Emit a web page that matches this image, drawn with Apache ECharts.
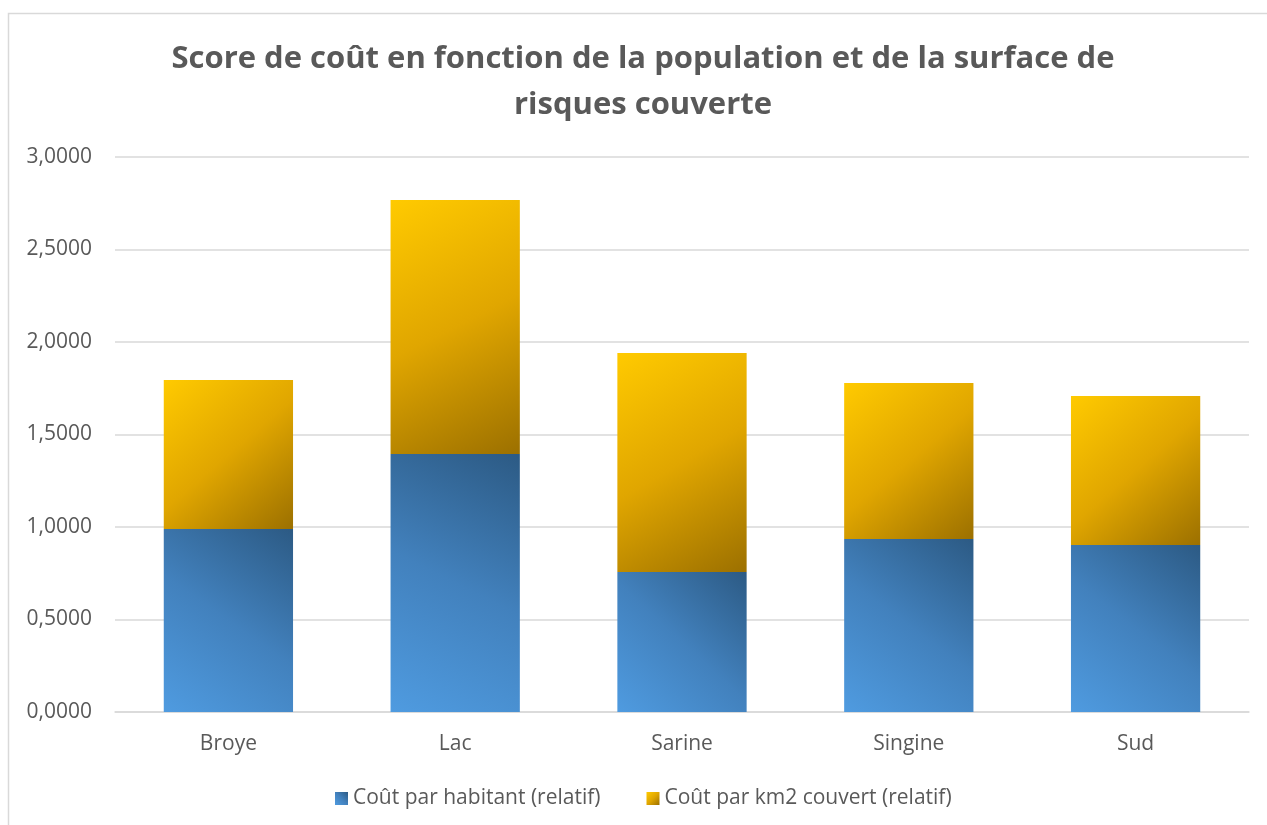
<!DOCTYPE html>
<html>
<head>
<meta charset="utf-8">
<script src="https://cdn.jsdelivr.net/npm/echarts@6/dist/echarts.min.js"></script>
<style>
  html, body { margin: 0; padding: 0; background: #fff; }
  #chart { width: 1267px; height: 825px; }
</style>
</head>
<body>
<div id="chart"></div>
<script>
// Districts and relative cost scores
const categories = ['Broye', 'Lac', 'Sarine', 'Singine', 'Sud'];
const coutHabitant = [0.989, 1.395, 0.757, 0.935, 0.903];
const coutKm2 = [0.806, 1.373, 1.184, 0.843, 0.805];
const seriesNames = ['Coût par habitant (relatif)', 'Coût par km2 couvert (relatif)'];
const titleText = 'Score de coût en fonction de la population et de la surface de\nrisques couverte';

const FONT = '"Open Sans", "Noto Sans", sans-serif';
const TEXT = '#595959';

// Diagonal gradients: blue darkens toward top-right, gold toward bottom-right
const blueFill = new echarts.graphic.LinearGradient(0, 1, 1, 0, [
  { offset: 0, color: '#4f9be0' },
  { offset: 0.5, color: '#4281bd' },
  { offset: 1, color: '#2c5a84' }
]);
const goldFill = new echarts.graphic.LinearGradient(0, 0, 1, 1, [
  { offset: 0, color: '#ffca00' },
  { offset: 0.5, color: '#e0a600' },
  { offset: 1, color: '#9c7000' }
]);

const chart = echarts.init(document.getElementById('chart'), null, { renderer: 'canvas' });

chart.setOption({
  backgroundColor: '#fff',
  animation: false,
  graphic: [
    {
      // chart frame
      type: 'rect',
      shape: { x: 8.5, y: 13.5, width: 1300, height: 900 },
      style: { fill: 'none', stroke: '#d9d9d9', lineWidth: 1.5 },
      silent: true,
      z: -1
    },
    {
      // two-line centred title
      type: 'text',
      x: 643,
      y: 82,
      silent: true,
      style: {
        text: titleText,
        fontFamily: FONT,
        fontSize: 31,
        fontWeight: 'bold',
        fill: TEXT,
        lineHeight: 46,
        align: 'center',
        verticalAlign: 'middle'
      }
    }
  ],
  legend: {
    bottom: 11,
    left: 330,
    itemWidth: 13,
    itemHeight: 13,
    itemGap: 46,
    icon: 'rect',
    textStyle: { fontFamily: FONT, fontSize: 21, color: TEXT },
    data: seriesNames
  },
  grid: { left: 115, right: 18, top: 157, bottom: 113, containLabel: false },
  xAxis: {
    type: 'category',
    data: categories,
    axisLine: { lineStyle: { color: '#d9d9d9', width: 1.5 } },
    axisTick: { show: false },
    axisLabel: { fontFamily: FONT, fontSize: 21, color: TEXT, margin: 22 }
  },
  yAxis: {
    type: 'value',
    min: 0,
    max: 3,
    interval: 0.5,
    axisLine: { show: false },
    axisTick: { show: false },
    splitLine: { lineStyle: { color: '#d9d9d9', width: 1.5 } },
    axisLabel: {
      fontFamily: FONT,
      fontSize: 21,
      color: TEXT,
      margin: 23,
      formatter: v => v.toFixed(4).replace('.', ',')
    }
  },
  series: [
    {
      name: seriesNames[0],
      type: 'bar',
      stack: 'total',
      barWidth: '57%',
      data: coutHabitant,
      itemStyle: { color: blueFill }
    },
    {
      name: seriesNames[1],
      type: 'bar',
      stack: 'total',
      barWidth: '57%',
      data: coutKm2,
      itemStyle: { color: goldFill }
    }
  ]
});
</script>
</body>
</html>
